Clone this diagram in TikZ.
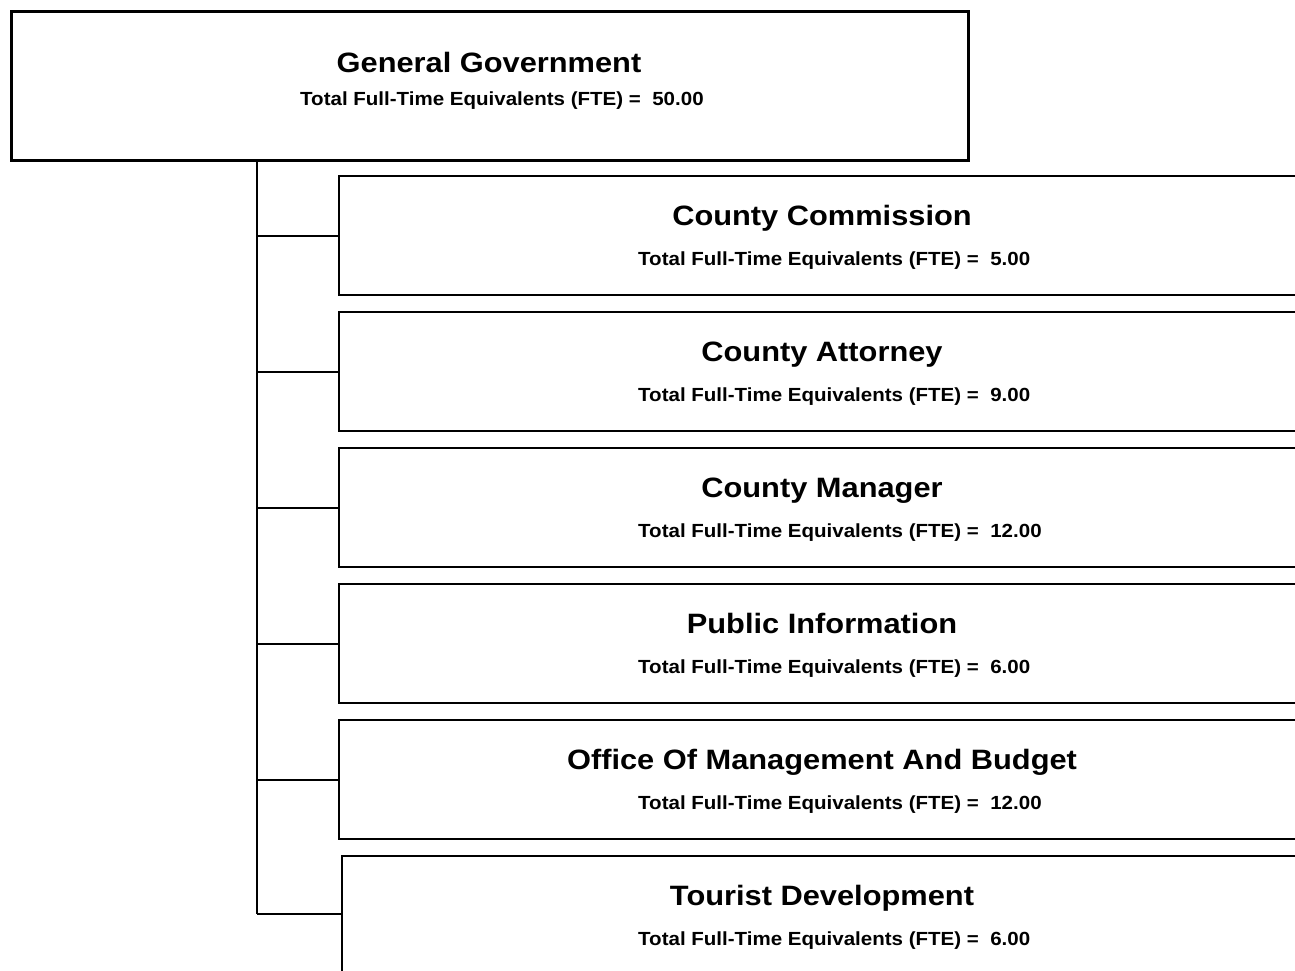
\documentclass[tikz,border=0pt]{standalone}
\usepackage{graphicx}
\usepackage{fontspec}
\setmainfont{Liberation Sans}

% widened Arial-like lettering of the chart
\newcommand{\unitname}[1]{\scalebox{1.1}[1.0]{#1}}
\newcommand{\unitfte}[1]{\scalebox{1.08}[1.0]{Total Full-Time Equivalents (FTE) =~~#1}}

\tikzset{
  unitbox/.style={draw, line width=2pt, rectangle, anchor=north west,
                  minimum width=968pt, minimum height=119pt, inner sep=0pt},
  nametext/.style={anchor=base, inner sep=0pt, font=\bfseries\fontsize{28}{32}\selectfont},
  ftetext/.style={anchor=base west, inner sep=0pt, font=\bfseries\fontsize{19}{22}\selectfont},
  branch/.style={line width=2pt}
}

\begin{document}
\begin{tikzpicture}[x=1pt,y=-1pt]
                \useasboundingbox (0,0) rectangle (1295,971);
                \clip (0,0) rectangle (1295,971);

                % department at the top
                \node[draw, line width=2.8pt, anchor=north west, minimum width=957pt,
                      minimum height=149pt, inner sep=0pt] (gengov) at (10,10) {};
                \node[nametext] (gengovname) at (489,73) {\unitname{General Government}};
                \node[ftetext] (gengovfte) at (300,106) {\unitfte{50.00}};

                % divisions
                \node[unitbox] (commission) at (338,175) {};
                \node[unitbox] (attorney) at (338,311) {};
                \node[unitbox] (manager) at (338,447) {};
                \node[unitbox] (pubinfo) at (338,583) {};
                \node[unitbox] (omb) at (338,719) {};
                \node[unitbox, minimum width=962pt, minimum height=116pt] (tourist) at (341,855) {};

                \node[nametext] (commissionname) at (822,225) {\unitname{County Commission}};
                \node[ftetext] (commissionfte) at (638,265) {\unitfte{5.00}};
                \node[nametext] (attorneyname) at (822,361) {\unitname{County Attorney}};
                \node[ftetext] (attorneyfte) at (638,401) {\unitfte{9.00}};
                \node[nametext] (managername) at (822,497) {\unitname{County Manager}};
                \node[ftetext] (managerfte) at (638,537) {\unitfte{12.00}};
                \node[nametext] (pubinfoname) at (822,633) {\unitname{Public Information}};
                \node[ftetext] (pubinfofte) at (638,673) {\unitfte{6.00}};
                \node[nametext] (ombname) at (822,769) {\unitname{Office Of Management And Budget}};
                \node[ftetext] (ombfte) at (638,809) {\unitfte{12.00}};
                \node[nametext] (touristname) at (822,905) {\unitname{Tourist Development}};
                \node[ftetext] (touristfte) at (638,945) {\unitfte{6.00}};

                % trunk and branches
                \coordinate (trunk) at (257,159);
                \draw[branch] (trunk) -- (trunk |- tourist.west);
                \draw[branch] (trunk |- commission.west) -- (commission.west);
                \draw[branch] (trunk |- attorney.west) -- (attorney.west);
                \draw[branch] (trunk |- manager.west) -- (manager.west);
                \draw[branch] (trunk |- pubinfo.west) -- (pubinfo.west);
                \draw[branch] (trunk |- omb.west) -- (omb.west);
                \draw[branch] (trunk |- tourist.west) -- (tourist.west);

                \end{tikzpicture}
\end{document}
